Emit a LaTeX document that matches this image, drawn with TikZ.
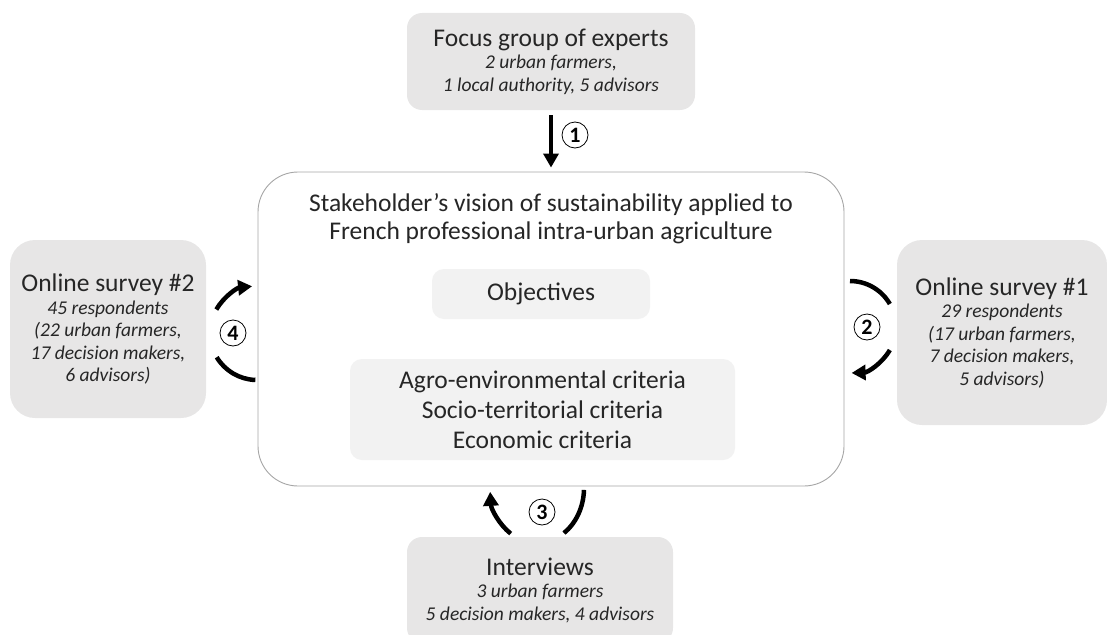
\documentclass[tikz,border=0pt]{standalone}
\usepackage{fontspec}
\setmainfont{Carlito}
\usepackage{xcolor}
\usetikzlibrary{arrows.meta, positioning}

\definecolor{panel}{HTML}{E7E6E6}
\definecolor{innerpanel}{HTML}{F2F2F2}
\definecolor{frame}{HTML}{A6A6A6}
\definecolor{ink}{HTML}{262626}
\newcommand{\hd}[1]{{\upshape\fontsize{25.5}{27}\selectfont #1}}

\begin{document}
\begin{tikzpicture}[
  x=1pt, y=1pt,
  source/.style={rectangle, rounded corners=15pt, fill=panel, text=ink, align=center, inner sep=0pt, font=\fontsize{19.5}{22.5}\selectfont\itshape},
  vision/.style={rectangle, rounded corners=40pt, draw=frame, line width=0.9pt, fill=white},
  part/.style={rectangle, rounded corners=12pt, fill=innerpanel, text=ink, align=center, font=\fontsize{25.5}{30}\selectfont},
  num/.style={circle, draw, line width=0.8pt, fill=white, inner sep=0pt, minimum size=26pt, font=\fontsize{22}{22}\selectfont\bfseries},
  flow/.style={line width=4.5pt, -{Triangle[length=14pt, width=15pt]}},
  plain/.style={line width=4.5pt}
]
\clip (0,0) rectangle (1107,-634);

% boxes
\node[vision, minimum width=586pt, minimum height=314pt] (main) at (551,-329) {};
\node[align=center, text=ink, font=\fontsize{25.5}{28}\selectfont] (title) at (551,-219)
  {Stakeholder’s vision of sustainability applied to\\French professional intra-urban agriculture};
\node[part, minimum width=218pt, minimum height=50pt] (objectives) at (541,-294) {Objectives};
\node[part, minimum width=385pt, minimum height=101pt] (criteria) at (542.5,-409.5)
  {Agro-environmental criteria\\Socio-territorial criteria\\Economic criteria};

\node[source, minimum width=288pt, minimum height=97pt] (focus) at (551,-61.5)
  {\hd{Focus group of experts}\\2 urban farmers,\\1 local authority, 5 advisors};
\node[source, rounded corners=25pt, minimum width=196pt, minimum height=178pt] (survey2) at (108,-329)
  {\hd{Online survey \#2}\\45 respondents\\(22 urban farmers,\\17 decision makers,\\6 advisors)};
\node[source, rounded corners=25pt, minimum width=210pt, minimum height=185pt] (survey1) at (1002,-332.5)
  {\hd{Online survey \#1}\\29 respondents\\(17 urban farmers,\\7 decision makers,\\5 advisors)};
\node[source, minimum width=266pt, minimum height=106pt] (interviews) at (540,-590)
  {\hd{Interviews}\\3 urban farmers\\5 decision makers, 4 advisors};

% arc centres
\coordinate (c2) at (850,-327);
\coordinate (c3) at (537,-488);
\coordinate (c4) at (257,-333);

% step 1
\draw[flow, shorten <=5pt, shorten >=4pt] (focus) -- (main);
\node[num] (n1) at (575,-135) {1};

% step 2
\draw[plain] ([shift={(90:46)}]c2) arc[start angle=90, end angle=30, radius=46pt];
\draw[flow] ([shift={(-30:46)}]c2) arc[start angle=-30, end angle=-88, radius=46pt];
\node[num] (n2) at (867,-327) {2};

% step 3
\draw[flow] ([shift={(236:47 and 55)}]c3) arc[start angle=236, end angle=184, x radius=47pt, y radius=55pt];
\draw[plain] ([shift={(-55:47 and 55)}]c3) arc[start angle=-55, end angle=-2, x radius=47pt, y radius=55pt];
\node[num] (n3) at (542,-512) {3};

% step 4
\draw[flow] ([shift={(150:47)}]c4) arc[start angle=150, end angle=96, radius=47pt];
\draw[plain] ([shift={(211:47)}]c4) arc[start angle=211, end angle=268, radius=47pt];
\node[num] (n4) at (233,-333) {4};
\end{tikzpicture}
\end{document}
